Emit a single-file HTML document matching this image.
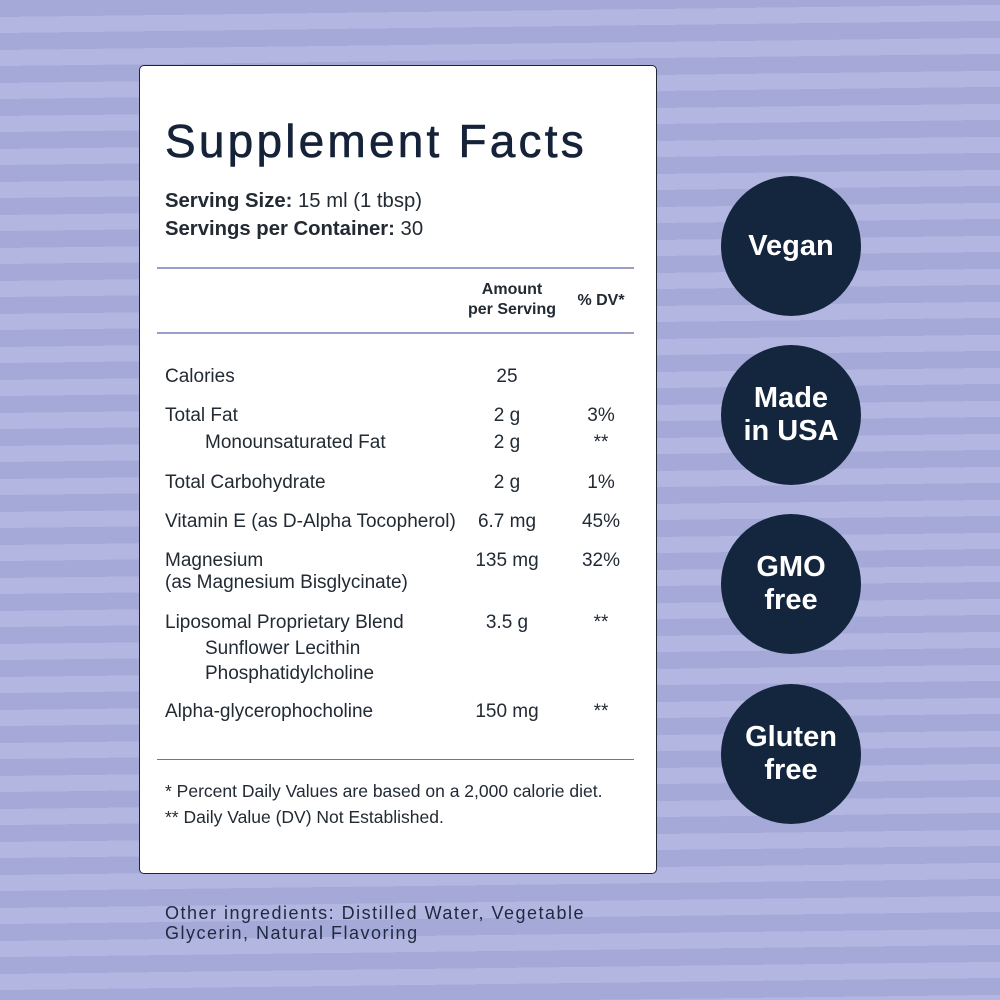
<!DOCTYPE html>
<html><head><style>
*{margin:0;padding:0;box-sizing:border-box}
body{width:1000px;height:1000px;position:relative;overflow:hidden;font-family:"Liberation Sans",sans-serif;
background:repeating-linear-gradient(179.3deg,#a5a9d8 0px,#a5a9d8 17px,#b3b6e0 17px,#b3b6e0 33px);}
.panel{position:absolute;left:139px;top:65px;width:518px;height:809px;background:#fff;border:1.5px solid #1d2633;border-radius:5px}
.t{position:absolute;line-height:24px;height:24px;color:#222a33;font-size:19px;white-space:nowrap;letter-spacing:0px}
.c{text-align:center;width:120px}
.hl{position:absolute;left:157px;width:477px;height:2px;background:#9b9dcc}
.circ{position:absolute;left:721px;width:140px;height:140px;border-radius:50%;background:#14263d;color:#fff;font-weight:bold;font-size:29px;display:flex;align-items:center;justify-content:center;text-align:center;line-height:33px}
</style></head><body>
<div class="panel"></div>
<div class="t" style="left:165px;top:116px;height:50px;line-height:50px;font-size:46px;color:#152238;letter-spacing:3.2px;-webkit-text-stroke:0.6px #152238">Supplement Facts</div>
<div class="t" style="left:165px;top:189px;font-size:20.3px"><b>Serving Size:</b> 15 ml (1 tbsp)</div>
<div class="t" style="left:165px;top:217px;font-size:20.3px"><b>Servings per Container:</b> 30</div>
<div class="hl" style="top:267px"></div>
<div class="t c" style="left:452px;top:280px;font-size:16px;font-weight:bold;line-height:20px">Amount<br>per Serving</div>
<div class="t c" style="left:541px;top:289px;font-size:16px;font-weight:bold">% DV*</div>
<div class="hl" style="top:332px"></div>
<div class="t" style="left:165px;top:365px">Calories</div><div class="t c" style="left:447px;top:365px">25</div>
<div class="t" style="left:165px;top:404px">Total Fat</div><div class="t c" style="left:447px;top:404px">2 g</div><div class="t c" style="left:541px;top:404px">3%</div>
<div class="t" style="left:205px;top:431px">Monounsaturated Fat</div><div class="t c" style="left:447px;top:431px">2 g</div><div class="t c" style="left:541px;top:431px">**</div>
<div class="t" style="left:165px;top:471px">Total Carbohydrate</div><div class="t c" style="left:447px;top:471px">2 g</div><div class="t c" style="left:541px;top:471px">1%</div>
<div class="t" style="left:165px;top:510px">Vitamin E (as D-Alpha Tocopherol)</div><div class="t c" style="left:447px;top:510px">6.7 mg</div><div class="t c" style="left:541px;top:510px">45%</div>
<div class="t" style="left:165px;top:549px">Magnesium</div><div class="t c" style="left:447px;top:549px">135 mg</div><div class="t c" style="left:541px;top:549px">32%</div>
<div class="t" style="left:165px;top:571px">(as Magnesium Bisglycinate)</div>
<div class="t" style="left:165px;top:611px">Liposomal Proprietary Blend</div><div class="t c" style="left:447px;top:611px">3.5 g</div><div class="t c" style="left:541px;top:611px">**</div>
<div class="t" style="left:205px;top:637px">Sunflower Lecithin</div>
<div class="t" style="left:205px;top:662px">Phosphatidylcholine</div>
<div class="t" style="left:165px;top:700px">Alpha-glycerophocholine</div><div class="t c" style="left:447px;top:700px">150 mg</div><div class="t c" style="left:541px;top:700px">**</div>
<div class="hl" style="top:759px;height:1px;background:#777"></div>
<div class="t" style="left:165px;top:779px;font-size:17.5px">* Percent Daily Values are based on a 2,000 calorie diet.</div>
<div class="t" style="left:165px;top:805px;font-size:17.5px">** Daily Value (DV) Not Established.</div>
<div class="t" style="left:165px;top:903px;font-size:18px;line-height:20px;color:#1d2a40;letter-spacing:1.5px;white-space:normal;width:520px">Other ingredients: Distilled Water, Vegetable<br>Glycerin, Natural Flavoring</div>
<div class="circ" style="top:176px">Vegan</div>
<div class="circ" style="top:345px">Made<br>in USA</div>
<div class="circ" style="top:514px">GMO<br>free</div>
<div class="circ" style="top:684px">Gluten<br>free</div>
</body></html>
